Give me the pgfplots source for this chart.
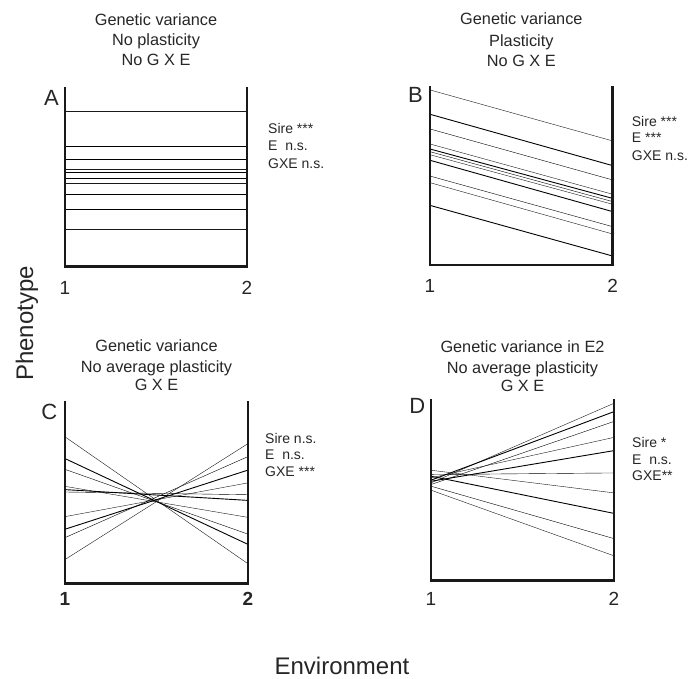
\documentclass[border=0pt]{standalone}
\usepackage{fontspec}
\setmainfont{Liberation Sans}
\usepackage{pgfplots}
\usepackage{pgfplotstable}
\pgfplotsset{compat=1.18}

% one column per sire: phenotype in environment 1 and 2
\pgfplotstableread{
x s1 s2 s3 s4 s5 s6 s7 s8 s9 s10
1 86.4 67.3 60.0 54.3 52.4 49.1 46.5 40.0 32.2 20.8
2 86.4 67.3 60.0 54.3 52.4 49.1 46.5 40.0 32.2 20.8
}\tabA
\pgfplotstableread{
x s1 s2 s3 s4 s5 s6 s7 s8 s9 s10 s11
1 97.8 84.2 76.0 67.6 64.8 63.3 61.6 58.5 49.7 46.0 33.3
2 69.3 55.5 47.5 39.5 37.2 35.4 33.9 29.8 21.4 17.3 5.0
}\tabB
\pgfplotstableread{
x s1 s2 s3 s4 s5 s6 s7 s8 s9 s10
1 80.2 68.3 62.4 53.1 51.3 50.0 36.5 29.6 25.0 13.0
2 10.7 21.3 26.9 36.1 45.4 48.5 55.0 62.0 69.4 76.5
}\tabC
\pgfplotstableread{
x s1 s2 s3 s4 s5 s6 s7 s8 s9 s10
1 53.9 55.4 53.0 56.7 54.8 58.5 60.9 57.6 52.1 49.9
2 97.8 93.2 87.8 79.0 71.7 59.4 48.4 37.1 23.2 13.7
}\tabD

\newcommand{\ttl}{\fontsize{16.3}{20}\selectfont}
\newcommand{\stat}{\fontsize{14}{17}\selectfont}
\newcommand{\lett}{\fontsize{22}{22}\selectfont}

\pgfplotsset{
  panel/.style={
    scale only axis, anchor=south west,
    xmin=1, xmax=2, ymin=0, ymax=100,
    xtick={1,2}, ytick=\empty, major tick length=0pt,
    axis line style={draw=none},
    xticklabel style={anchor=base, font=\fontsize{19}{19}\selectfont, text=black!85},
    /pgf/number format/assume math mode=true,
    clip=false,
    cycle list={{black!90, line width=0.9pt, mark=none}},
    after end axis/.code={
      \draw[black!90, line width=2.8pt, line join=miter]
        (rel axis cs:0,1) -- (rel axis cs:0,0) -- (rel axis cs:1,0) -- (rel axis cs:1,1);
    },
  },
}

\begin{document}
\begin{tikzpicture}[every node/.style={text=black!85}]
\path (0pt,0pt) rectangle (689pt,679pt);

% A
\begin{axis}[panel, at={(65pt,412.3pt)}, width=182pt, height=179.4pt,
  xticklabel style={yshift=-28pt}]
\pgfplotsinvokeforeach{1,...,10}{\addplot table[x=x,y=s#1]{\tabA};}
\node[anchor=base, font=\ttl] at (rel axis cs:0.5,1) [yshift=62pt] {Genetic variance};
\node[anchor=base, font=\ttl] at (rel axis cs:0.5,1) [yshift=42pt] {No plasticity};
\node[anchor=base, font=\ttl] at (rel axis cs:0.5,1) [yshift=22pt] {No G X E};
\node[anchor=base east, inner sep=0pt, font=\lett] at (rel axis cs:0,1) [xshift=-6pt, yshift=-18.7pt] {A};
\node[anchor=base west, inner sep=0pt, font=\stat] at (rel axis cs:1,1) [xshift=21pt, yshift=-46pt] {Sire ***};
\node[anchor=base west, inner sep=0pt, font=\stat] at (rel axis cs:1,1) [xshift=21pt, yshift=-63.4pt] {E\ \ n.s.};
\node[anchor=base west, inner sep=0pt, font=\stat] at (rel axis cs:1,1) [xshift=21pt, yshift=-81pt] {GXE n.s.};
\end{axis}

% B
\begin{axis}[panel, at={(430pt,414pt)}, width=182.7pt, height=179pt,
  xticklabel style={yshift=-28pt}]
\pgfplotsinvokeforeach{1,...,11}{\addplot table[x=x,y=s#1]{\tabB};}
\node[anchor=base, font=\ttl] at (rel axis cs:0.5,1) [yshift=61pt] {Genetic variance};
\node[anchor=base, font=\ttl] at (rel axis cs:0.5,1) [yshift=39pt] {Plasticity};
\node[anchor=base, font=\ttl] at (rel axis cs:0.5,1) [yshift=19pt] {No G X E};
\node[anchor=base east, inner sep=0pt, font=\lett] at (rel axis cs:0,1) [xshift=-7pt, yshift=-16.7pt] {B};
\node[anchor=base west, inner sep=0pt, font=\stat] at (rel axis cs:1,1) [xshift=19pt, yshift=-41pt] {Sire ***};
\node[anchor=base west, inner sep=0pt, font=\stat] at (rel axis cs:1,1) [xshift=19pt, yshift=-56.7pt] {E ***};
\node[anchor=base west, inner sep=0pt, font=\stat] at (rel axis cs:1,1) [xshift=19pt, yshift=-74.4pt] {GXE n.s.};
\end{axis}

% C
\begin{axis}[panel, at={(65pt,95.7pt)}, width=183pt, height=182.6pt,
  xticklabel style={yshift=-22.7pt, font=\fontsize{19}{19}\selectfont\bfseries}]
\pgfplotsinvokeforeach{1,...,10}{\addplot table[x=x,y=s#1]{\tabC};}
\node[anchor=base, font=\ttl] at (rel axis cs:0.5,1) [yshift=49pt] {Genetic variance};
\node[anchor=base, font=\ttl] at (rel axis cs:0.5,1) [yshift=28pt] {No average plasticity};
\node[anchor=base, font=\ttl] at (rel axis cs:0.5,1) [yshift=9.7pt] {G X E};
\node[anchor=base east, inner sep=0pt, font=\lett] at (rel axis cs:0,1) [xshift=-7.5pt, yshift=-19.3pt] {C};
\node[anchor=base west, inner sep=0pt, font=\stat] at (rel axis cs:1,1) [xshift=17pt, yshift=-42.6pt] {Sire n.s.};
\node[anchor=base west, inner sep=0pt, font=\stat] at (rel axis cs:1,1) [xshift=17pt, yshift=-59.3pt] {E\ \ n.s.};
\node[anchor=base west, inner sep=0pt, font=\stat] at (rel axis cs:1,1) [xshift=17pt, yshift=-76pt] {GXE ***};
\end{axis}

% D
\begin{axis}[panel, at={(431pt,98.3pt)}, width=183pt, height=181.4pt,
  xticklabel style={yshift=-25pt}]
\pgfplotsinvokeforeach{1,...,10}{\addplot table[x=x,y=s#1]{\tabD};}
\node[anchor=base, font=\ttl] at (rel axis cs:0.5,1) [yshift=46.6pt] {Genetic variance in E2};
\node[anchor=base, font=\ttl] at (rel axis cs:0.5,1) [yshift=26pt] {No average plasticity};
\node[anchor=base, font=\ttl] at (rel axis cs:0.5,1) [yshift=7.6pt] {G X E};
\node[anchor=base east, inner sep=0pt, font=\lett] at (rel axis cs:0,1) [xshift=-5.5pt, yshift=-14pt] {D};
\node[anchor=base west, inner sep=0pt, font=\stat] at (rel axis cs:1,1) [xshift=18pt, yshift=-48.4pt] {Sire *};
\node[anchor=base west, inner sep=0pt, font=\stat] at (rel axis cs:1,1) [xshift=18pt, yshift=-65.7pt] {E\ \ n.s.};
\node[anchor=base west, inner sep=0pt, font=\stat] at (rel axis cs:1,1) [xshift=18pt, yshift=-81.4pt] {GXE**};
\end{axis}

\node[rotate=90, anchor=base, inner sep=0pt, font=\fontsize{24}{24}\selectfont] at (33pt,355.5pt) {Phenotype};
\node[anchor=base, inner sep=0pt, font=\fontsize{24}{24}\selectfont] at (342pt,4pt) {Environment};
\end{tikzpicture}
\end{document}
